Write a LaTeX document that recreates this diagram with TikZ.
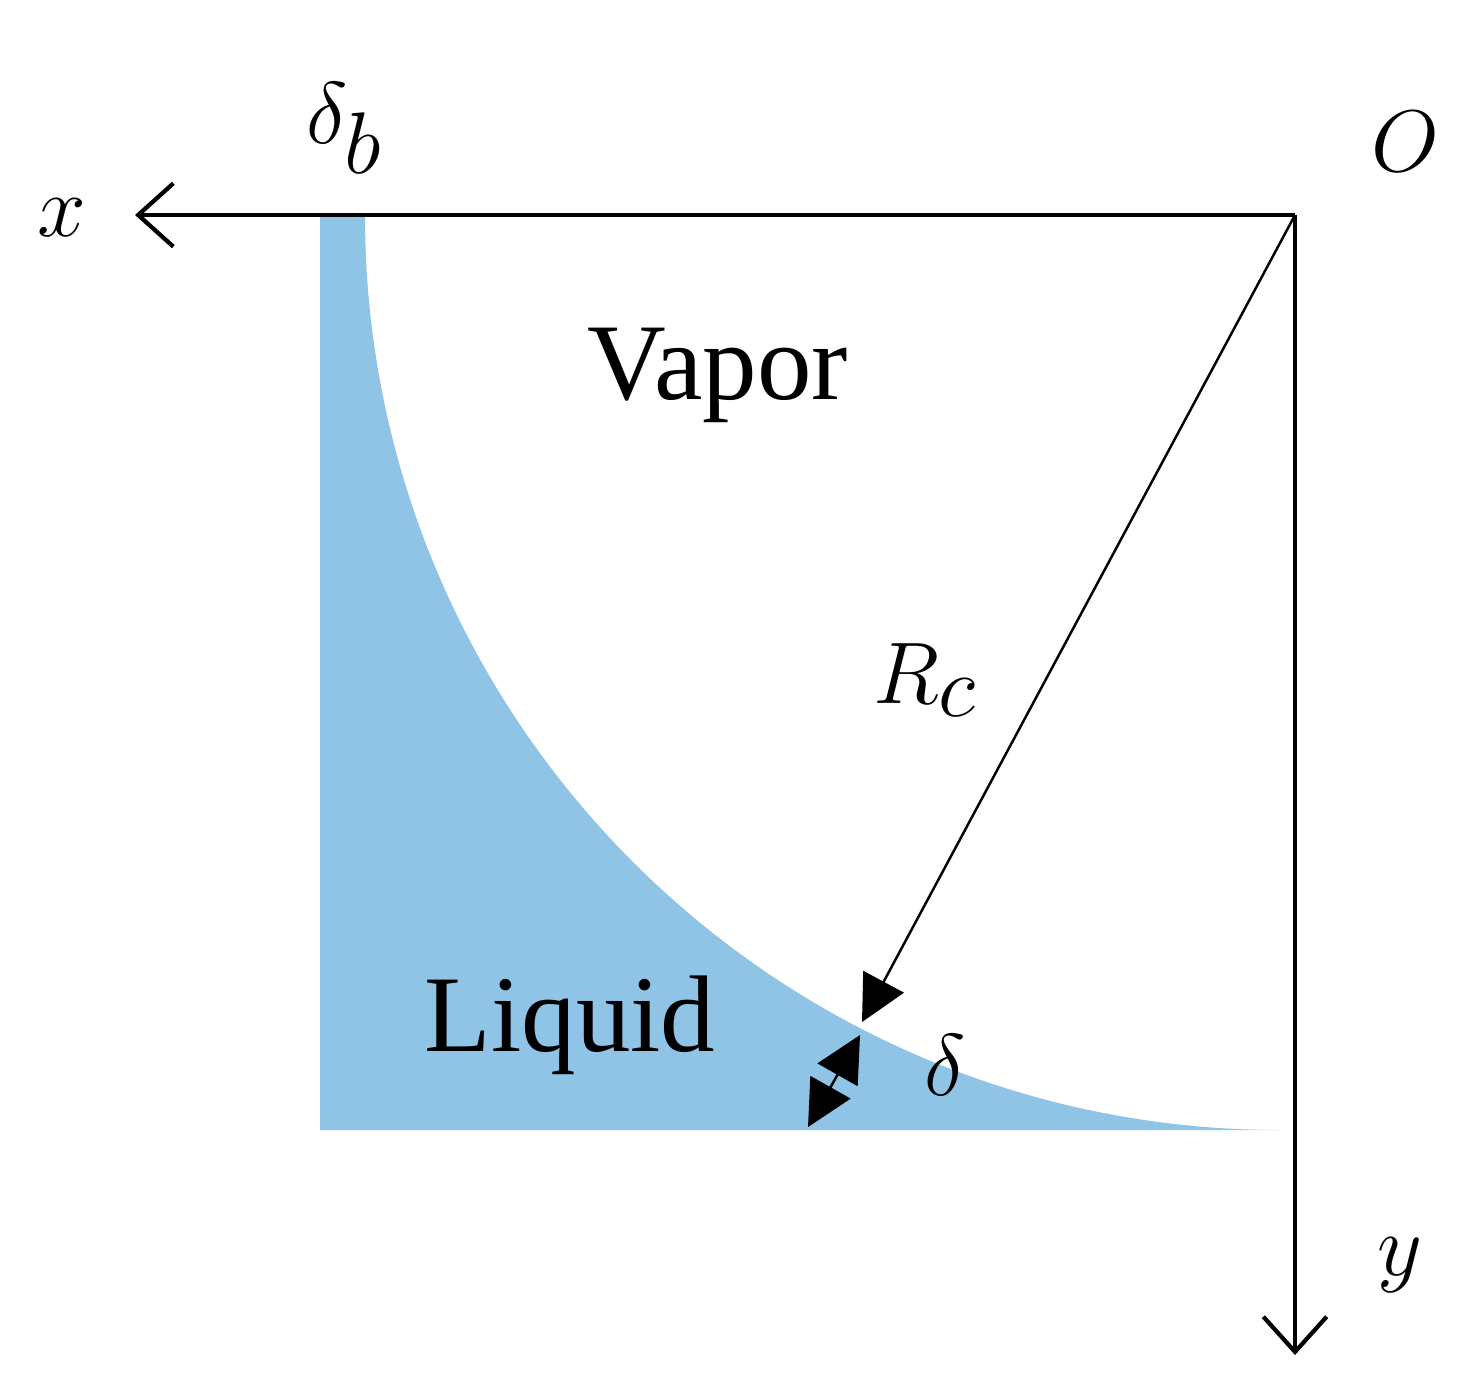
\documentclass[tikz,border=0pt]{standalone}
\usepackage{fontspec}
\setmainfont{Liberation Serif}
\usetikzlibrary{arrows.meta}
\definecolor{liq}{RGB}{143,196,230}
\begin{document}
\begin{tikzpicture}[x=0.01cm,y=-0.01cm,
 axis/.style={line width=1.2pt,-{Straight Barb[length=10pt,width=18pt,line width=1.2pt]}},
 lab/.style={font=\fontsize{31}{36}\selectfont},
 mlab/.style={font=\fontsize{38}{44}\selectfont},
 filltip/.style={-{Triangle[length=13pt,width=13pt]}}]
\useasboundingbox (0,0) rectangle (1480,1397);
\fill[liq] (320,215) -- (365,215) arc[start angle=180,end angle=90,radius=915] -- (1280,1130) -- (320,1130) -- cycle;
\coordinate (O) at (1295,215);
\coordinate (xe) at (135,215);
\coordinate (ye) at (1295,1355);
\coordinate (rc) at (862,1022);
\coordinate (d1) at (860,1035);
\coordinate (d2) at (808,1127);
\draw[axis] (O) -- (xe);
\draw[axis] (O) -- (ye);
\draw[line width=0.7pt,filltip] (O) -- (rc);
\draw[line width=0.7pt,{Triangle[length=13pt,width=13pt]}-{Triangle[length=13pt,width=13pt]}] (d1) -- (d2);
\node[mlab] (db) at (345,128) {$\delta_b$};
\node[mlab] (o) at (1405,142) {$O$};
\node[mlab] (x) at (62,218) {$x$};
\node[mlab] (y) at (1400,1265) {$y$};
\node[lab] (v) at (718,375) {Vapor};
\node[lab] (l) at (570,1025) {Liquid};
\node[mlab] (r) at (925,680) {$R_c$};
\node[mlab] (d) at (945,1065) {$\delta$};
\end{tikzpicture}
\end{document}
